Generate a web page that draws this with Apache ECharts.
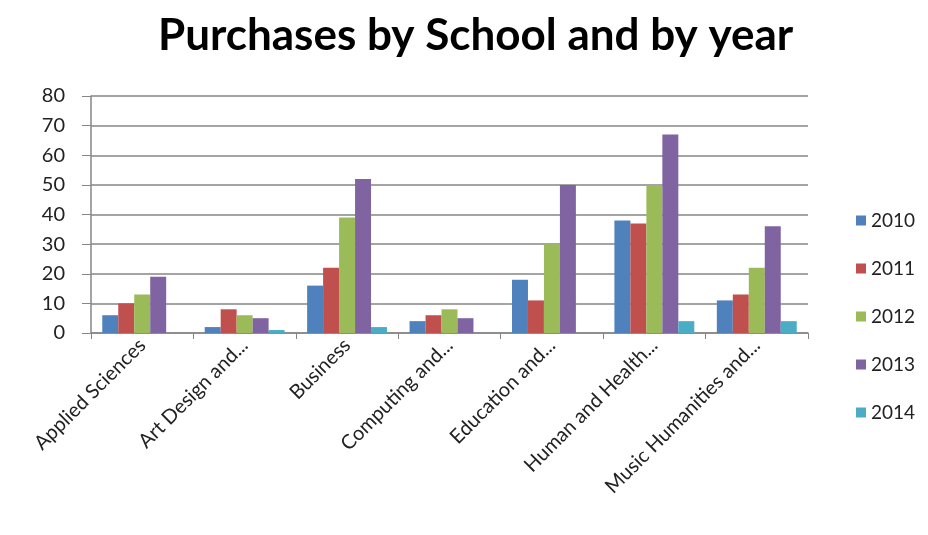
<!DOCTYPE html>
<html>
<head>
<meta charset="utf-8">
<script src="https://cdn.jsdelivr.net/npm/echarts@6/dist/echarts.min.js"></script>
<style>html,body{margin:0;padding:0;background:#fff;}#c{width:928px;height:535px;}</style>
</head>
<body>
<div id="c"></div>
<script>
const categories = ["Applied Sciences", "Art Design and...", "Business", "Computing and...", "Education and...", "Human and Health...", "Music Humanities and..."];
const seriesNames = ["2010", "2011", "2012", "2013", "2014"];
const v2010 = [6, 2, 16, 4, 18, 38, 11];
const v2011 = [10, 8, 22, 6, 11, 37, 13];
const v2012 = [13, 6, 39, 8, 30, 50, 22];
const v2013 = [19, 5, 52, 5, 50, 67, 36];
const v2014 = [0, 1, 2, 0, 0, 4, 4];
const yTicks = [0, 10, 20, 30, 40, 50, 60, 70, 80];
const colors = ["#4F81BD", "#C0504D", "#9BBB59", "#8064A2", "#4BACC6"];

const values = [v2010, v2011, v2012, v2013, v2014];
const FONT = "Lato, 'Open Sans', sans-serif";
const chart = echarts.init(document.getElementById('c'), null, {renderer: 'canvas'});
chart.setOption({
  animation: false,
  color: colors,
  title: {
    text: "Purchases by School and by year",
    left: 153, top: 9,
    textStyle: {fontFamily: FONT, fontWeight: 'bold', fontSize: 44, color: '#000'}
  },
  legend: {
    orient: 'vertical', left: 851, top: 206,
    icon: 'rect', itemWidth: 10, itemHeight: 10, itemGap: 29,
    textStyle: {fontFamily: FONT, fontSize: 19, color: '#222'},
    data: seriesNames
  },
  grid: {left: 91, right: 120, top: 96, bottom: 202, containLabel: false},
  xAxis: {
    type: 'category', data: categories,
    axisLine: {lineStyle: {color: '#868686', width: 1.5}},
    axisTick: {show: true, alignWithLabel: false, length: 6, lineStyle: {color: '#868686'}},
    axisLabel: {rotate: 45, fontFamily: FONT, fontSize: 20, color: '#222', margin: 9, interval: 0}
  },
  yAxis: {
    type: 'value', min: yTicks[0], max: yTicks[yTicks.length - 1], interval: yTicks[1] - yTicks[0],
    axisLine: {show: true, lineStyle: {color: '#868686', width: 1.5}},
    axisTick: {show: true, length: 9, lineStyle: {color: '#868686'}},
    axisLabel: {fontFamily: FONT, fontSize: 20, color: '#222', margin: 26, align: 'right'},
    splitLine: {lineStyle: {color: '#868686', width: 1.5}}
  },
  series: seriesNames.map((n, i) => ({
    name: n, type: 'bar', data: values[i],
    barGap: '0%', barCategoryGap: '22%'
  }))
});
</script>
</body>
</html>
